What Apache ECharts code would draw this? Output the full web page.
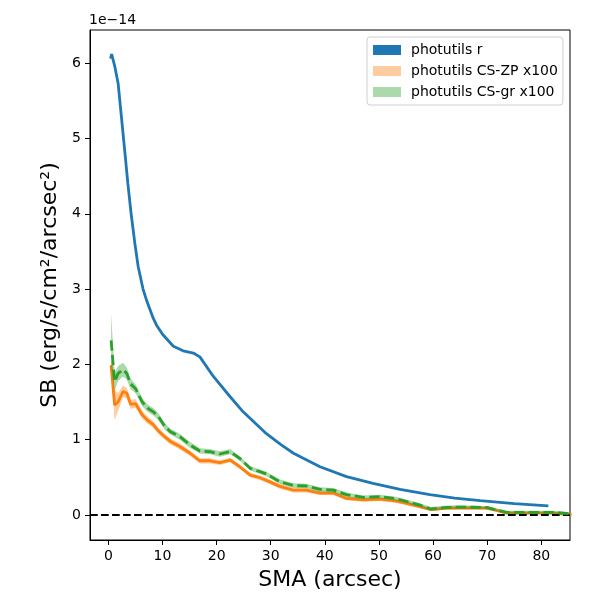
<!DOCTYPE html>
<html lang="en">
<head>
<meta charset="UTF-8">
<title>SB profile</title>
<script src="https://cdn.jsdelivr.net/npm/echarts@6/dist/echarts.min.js"></script>
<style>
    html, body { margin: 0; padding: 0; background: #fff; }
    #chart { width: 600px; height: 600px; }
</style>
</head>
<body>
<div id="chart"></div>
<script>
// photutils r profile, in units of 1e-14
const smaR = [0.4, 0.6, 1.2, 1.8, 2.4, 3.0, 3.6, 4.2, 4.9, 5.5, 6.4, 7.1, 8.3, 8.9, 10.0, 12.0, 13.8, 15.7, 16.9, 19.4, 22.5, 24.9, 29.2, 31.75, 34.2, 39.1, 44.0, 48.9, 53.9, 59.4, 64.0, 68.7, 75.0, 81.3];
const sbR = [6.06, 6.12, 5.95, 5.73, 5.29, 4.85, 4.40, 4.00, 3.60, 3.30, 3.00, 2.84, 2.61, 2.52, 2.40, 2.24, 2.18, 2.15, 2.10, 1.84, 1.57, 1.37, 1.08, 0.94, 0.82, 0.64, 0.51, 0.42, 0.34, 0.27, 0.225, 0.19, 0.15, 0.12];

// CS profiles (x100), same sma grid
const smaCS = [0.5, 1.15, 1.8, 2.7, 3.4, 4.1, 5.0, 6.25, 7.2, 8.3, 9.2, 10.4, 11.4, 13.2, 15.1, 16.9, 18.8, 20.6, 22.5, 24.3, 26.2, 28.0, 29.2, 31.7, 34.2, 36.6, 39.1, 41.6, 44.0, 47.1, 50.2, 53.3, 57.6, 59.6, 62.5, 65.0, 69.9, 71.8, 73.6, 77.3, 82.2, 85.6];
const sbZP = [1.99, 1.46, 1.50, 1.64, 1.62, 1.47, 1.48, 1.33, 1.26, 1.20, 1.12, 1.04, 0.98, 0.91, 0.82, 0.72, 0.72, 0.695, 0.73, 0.64, 0.53, 0.495, 0.46, 0.38, 0.33, 0.33, 0.29, 0.29, 0.22, 0.20, 0.21, 0.185, 0.11, 0.07, 0.09, 0.095, 0.09, 0.06, 0.025, 0.025, 0.025, 0.005];
const errZP = [0.06, 0.2, 0.12, 0.08, 0.07, 0.06, 0.06, 0.05, 0.05, 0.045, 0.04, 0.04, 0.04, 0.04, 0.035, 0.035, 0.035, 0.03, 0.03, 0.03, 0.03, 0.03, 0.03, 0.03, 0.03, 0.03, 0.025, 0.025, 0.025, 0.025, 0.025, 0.025, 0.025, 0.02, 0.02, 0.02, 0.02, 0.02, 0.02, 0.02, 0.02, 0.02];
const sbGR = [2.32, 1.77, 1.88, 1.93, 1.88, 1.74, 1.68, 1.50, 1.42, 1.37, 1.31, 1.18, 1.11, 1.04, 0.93, 0.85, 0.84, 0.81, 0.84, 0.75, 0.62, 0.575, 0.545, 0.44, 0.39, 0.385, 0.34, 0.33, 0.27, 0.235, 0.245, 0.215, 0.13, 0.08, 0.10, 0.105, 0.10, 0.065, 0.035, 0.035, 0.035, 0.015];
const errGR = [0.36, 0.12, 0.10, 0.09, 0.08, 0.07, 0.06, 0.055, 0.05, 0.05, 0.045, 0.045, 0.04, 0.04, 0.04, 0.035, 0.035, 0.035, 0.035, 0.03, 0.03, 0.03, 0.03, 0.03, 0.03, 0.03, 0.03, 0.03, 0.03, 0.025, 0.025, 0.025, 0.025, 0.025, 0.025, 0.025, 0.02, 0.02, 0.02, 0.02, 0.02, 0.02];

const xTicks = [0, 10, 20, 30, 40, 50, 60, 70, 80];
const yTicks = [0, 1, 2, 3, 4, 5, 6];
const legendNames = ['photutils r', 'photutils CS-ZP x100', 'photutils CS-gr x100'];

const FONT = 'DejaVu Sans';

function pairs(xs, ys) {
    return xs.map((x, i) => [x, ys[i]]);
}

// shaded error band drawn as one polygon
function bandSeries(name, xs, ys, es, color) {
    return {
        name: name,
        type: 'custom',
        clip: true,
        silent: true,
        itemStyle: { color: color },
        data: xs.map((x, i) => [x, ys[i] - es[i], ys[i] + es[i]]),
        encode: { x: 0, y: [1, 2] },
        renderItem: function (params, api) {
            if (params.dataIndex !== 0) return null;
            const upper = xs.map((x, i) => api.coord([x, ys[i] + es[i]]));
            const lower = xs.map((x, i) => api.coord([x, ys[i] - es[i]])).reverse();
            return {
                type: 'polygon',
                shape: { points: upper.concat(lower) },
                style: { fill: color }
            };
        }
    };
}

const chart = echarts.init(document.getElementById('chart'));

const option = {
    animation: false,
    title: {
        text: '1e\u221214',
        left: 89,
        top: 13,
        padding: 0,
        textStyle: { fontFamily: FONT, fontSize: 14, fontWeight: 'normal', color: '#000' }
    },
    legend: {
        data: legendNames,
        orient: 'vertical',
        left: 367,
        top: 37,
        icon: 'rect',
        itemWidth: 28,
        itemHeight: 10,
        itemGap: 7,
        padding: [6, 5, 6, 6],
        borderColor: '#d0d0d0',
        borderWidth: 1,
        borderRadius: 3,
        backgroundColor: 'rgba(255,255,255,0.8)',
        itemStyle: { borderWidth: 0 },
        textStyle: { fontFamily: FONT, fontSize: 14, color: '#000', padding: [0, 0, 0, 5] },
        selectedMode: false
    },
    grid: {
        left: 90,
        right: 30,
        top: 30,
        bottom: 60,
        show: true,
        borderColor: '#000',
        borderWidth: 1,
        containLabel: false
    },
    xAxis: {
        type: 'value',
        min: -3.4,
        max: 85.3,
        name: 'SMA (arcsec)',
        nameLocation: 'middle',
        nameGap: 29,
        nameTextStyle: { fontFamily: FONT, fontSize: 22, color: '#000' },
        axisLine: { show: true, onZero: false, lineStyle: { color: '#000', width: 1 } },
        axisTick: { show: true, customValues: xTicks, length: 5, lineStyle: { color: '#000' } },
        axisLabel: { customValues: xTicks, fontFamily: FONT, fontSize: 14, color: '#000', margin: 9 },
        splitLine: { show: false }
    },
    yAxis: {
        type: 'value',
        min: -0.332,
        max: 6.44,
        name: 'SB (erg/s/cm\u00b2/arcsec\u00b2)',
        nameLocation: 'middle',
        nameGap: 29,
        nameTextStyle: { fontFamily: FONT, fontSize: 22, color: '#000' },
        axisLine: { show: true, onZero: false, lineStyle: { color: '#000', width: 1 } },
        axisTick: { show: true, customValues: yTicks, length: 5, lineStyle: { color: '#000' } },
        axisLabel: { customValues: yTicks, fontFamily: FONT, fontSize: 14, color: '#000', margin: 9 },
        splitLine: { show: false }
    },
    series: [
        {
            name: 'photutils r',
            type: 'line',
            data: pairs(smaR, sbR),
            symbol: 'none',
            itemStyle: { color: '#1f77b4' },
            lineStyle: { color: '#1f77b4', width: 2.8 },
            z: 2
        },
        Object.assign(bandSeries('photutils CS-ZP x100', smaCS, sbZP, errZP, 'rgba(255,127,14,0.4)'), { z: 3 }),
        {
            name: 'CS-ZP line',
            type: 'line',
            data: pairs(smaCS, sbZP),
            symbol: 'none',
            itemStyle: { color: '#ff7f0e' },
            lineStyle: { color: '#ff7f0e', width: 2.8 },
            z: 4
        },
        Object.assign(bandSeries('photutils CS-gr x100', smaCS, sbGR, errGR, 'rgba(44,160,44,0.4)'), { z: 5 }),
        {
            name: 'CS-gr line',
            type: 'line',
            data: pairs(smaCS, sbGR),
            symbol: 'none',
            itemStyle: { color: '#2ca02c' },
            lineStyle: { color: '#2ca02c', width: 2.8, type: [10.3, 4.4] },
            z: 6,
            markLine: {
                silent: true,
                symbol: ['none', 'none'],
                label: { show: false },
                lineStyle: { color: '#000', width: 2, type: [7.7, 3.3] },
                data: [{ yAxis: 0 }]
            }
        }
    ]
};

chart.setOption(option);
</script>
</body>
</html>
